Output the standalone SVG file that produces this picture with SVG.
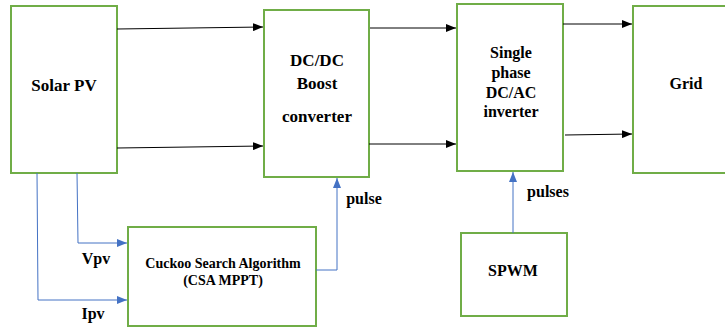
<svg xmlns="http://www.w3.org/2000/svg" width="725" height="327" viewBox="0 0 725 327">
<style>
.box{fill:#fff;stroke:#70AD47;stroke-width:2}
.t{font-family:"Liberation Serif",serif;font-weight:bold;font-size:16px;fill:#000;text-anchor:middle}
.k{stroke:#000;stroke-width:1;fill:none}
.b{stroke:#4472C4;stroke-width:1;fill:none}
</style>
<defs>
<marker id="ak" markerWidth="10" markerHeight="8" refX="10" refY="4" orient="auto" markerUnits="userSpaceOnUse"><path d="M0,0 L10,4 L0,8 Z" fill="#000"/></marker>
<marker id="ab" markerWidth="10" markerHeight="8" refX="10" refY="4" orient="auto" markerUnits="userSpaceOnUse"><path d="M0,0 L10,4 L0,8 Z" fill="#4472C4"/></marker>
</defs>
<rect width="725" height="327" fill="#fff"/>
<g id="solar"><rect class="box" x="11" y="6" width="106" height="167"/><text class="t" x="64" y="91" style="font-size:17px">Solar PV</text></g>
<g id="boost"><rect class="box" x="264" y="10" width="105" height="167"/><text class="t" x="317" y="66" style="font-size:17px">DC/DC</text><text class="t" x="317" y="89" style="font-size:17px">Boost</text><text class="t" x="317" y="122" style="font-size:17px">converter</text></g>
<g id="inverter"><rect class="box" x="457" y="4" width="106" height="167"/><text class="t" x="511" y="58">Single</text><text class="t" x="511" y="78">phase</text><text class="t" x="511" y="98">DC/AC</text><text class="t" x="511" y="117">inverter</text></g>
<g id="grid"><rect class="box" x="633" y="6" width="100" height="167"/><text class="t" x="686" y="89">Grid</text></g>
<g id="csa"><rect class="box" x="128" y="227" width="188" height="99"/><text class="t" x="223" y="268" style="font-size:14px">Cuckoo Search Algorithm</text><text class="t" x="223" y="285" style="font-size:14px">(CSA MPPT)</text></g>
<g id="spwm"><rect class="box" x="461" y="233" width="106" height="83"/><text class="t" x="513" y="276">SPWM</text></g>
<g id="connectors">
<path class="k" d="M117,29 L263,27" marker-end="url(#ak)"/>
<path class="k" d="M117,148 L263,146" marker-end="url(#ak)"/>
<path class="k" d="M370,28 L456,28" marker-end="url(#ak)"/>
<path class="k" d="M369,144 L456,144" marker-end="url(#ak)"/>
<path class="k" d="M563,24 L632,24" marker-end="url(#ak)"/>
<path class="k" d="M565,135 L632,134" marker-end="url(#ak)"/>
<path class="b" d="M77,173 L78,243 L127,243" marker-end="url(#ab)"/>
<path class="b" d="M37,173 L38,300 L127,300" marker-end="url(#ab)"/>
<path class="b" d="M316,270 L337,270 L337,178" marker-end="url(#ab)"/>
<path class="b" d="M513,233 L513,172" marker-end="url(#ab)"/>
<text class="t" x="96" y="264">Vpv</text>
<text class="t" x="93" y="319">Ipv</text>
<text class="t" x="364" y="204">pulse</text>
<text class="t" x="548" y="197">pulses</text>
</g>
</svg>
